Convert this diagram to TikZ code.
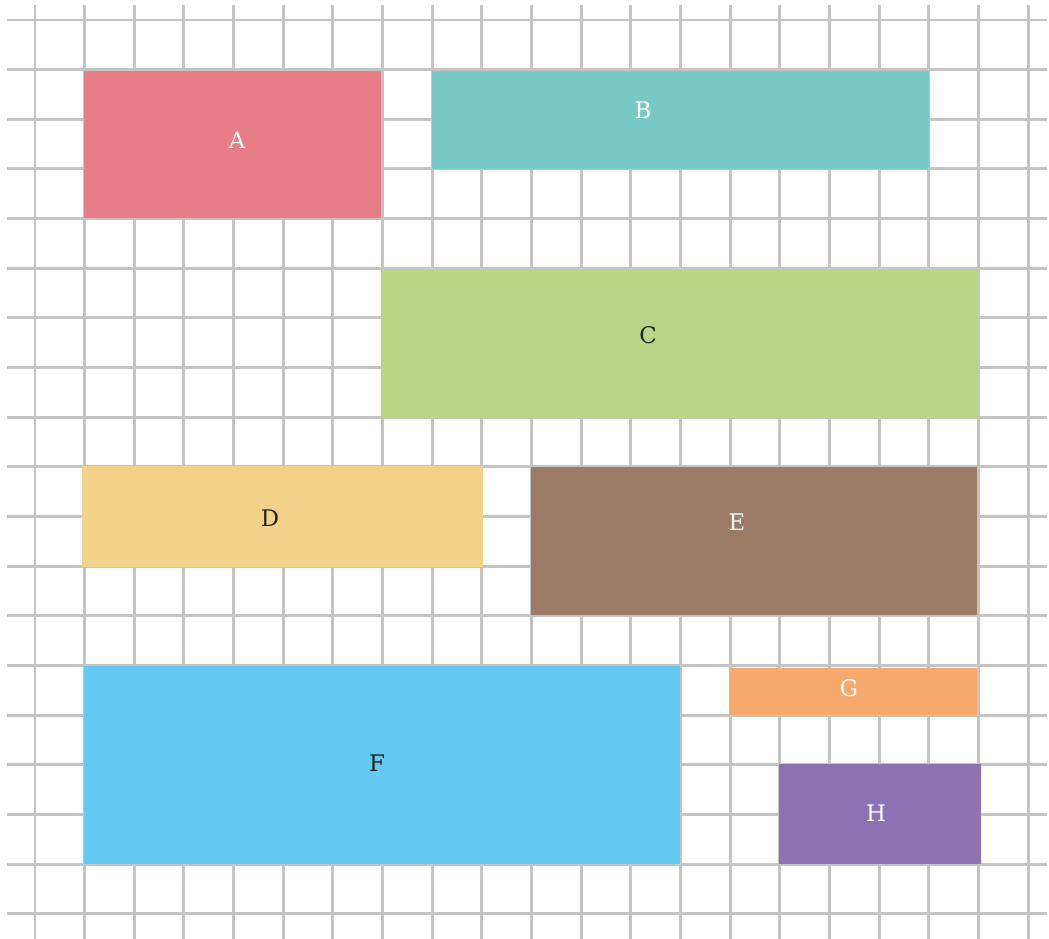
\documentclass[tikz,border=0pt]{standalone}
\usepackage{fontspec}
\setmainfont{DejaVu Serif}
\definecolor{gridc}{HTML}{C4C4C4}
\definecolor{cA}{HTML}{E77E87}
\definecolor{cB}{HTML}{76C9C5}
\definecolor{cC}{HTML}{B9D687}
\definecolor{cD}{HTML}{F3D189}
\definecolor{cE}{HTML}{9B7A67}
\definecolor{cF}{HTML}{63C9F1}
\definecolor{cG}{HTML}{F7A86D}
\definecolor{cH}{HTML}{8B72B2}
\definecolor{txtdark}{HTML}{222222}
\begin{document}
\begin{tikzpicture}[x=0.02cm,y=-0.02cm,
  gridline/.style={draw=gridc,line width=1.7pt},
  lbl/.style={font=\fontsize{13}{15}\selectfont,inner sep=0pt,anchor=center},
  lite/.style={lbl,text=white},
  dark/.style={lbl,text=txtdark}]
\useasboundingbox (0,0) rectangle (1049,939);
\fill[white] (0,0) rectangle (1049,939);
\foreach \i in {0,...,20} {\draw[gridline] ({35+49.65*\i},5) -- ({35+49.65*\i},939);}
\foreach \j in {0,...,18} {\draw[gridline] (7,{20+49.65*\j}) -- (1047,{20+49.65*\j});}
\fill[cA] (84,71) rectangle (381,218);
\fill[cB] (432,71) rectangle (929,169);
\fill[cC] (382,269) rectangle (977,417);
\fill[cD] (82,466) rectangle (483,567);
\fill[cE] (531,467) rectangle (977,615);
\fill[cF] (84,666) rectangle (680,864);
\fill[cG] (730,668) rectangle (977,715);
\fill[cH] (779,764) rectangle (981,864);
\node[lite] (A) at (237,140) {A};
\node[lite] (B) at (643,110) {B};
\node[dark] (C) at (648,335) {C};
\node[dark] (D) at (270,518) {D};
\node[lite] (E) at (737,522) {E};
\node[dark] (F) at (377,763) {F};
\node[lite] (G) at (849,688) {G};
\node[lite] (H) at (876,813) {H};
\end{tikzpicture}
\end{document}
